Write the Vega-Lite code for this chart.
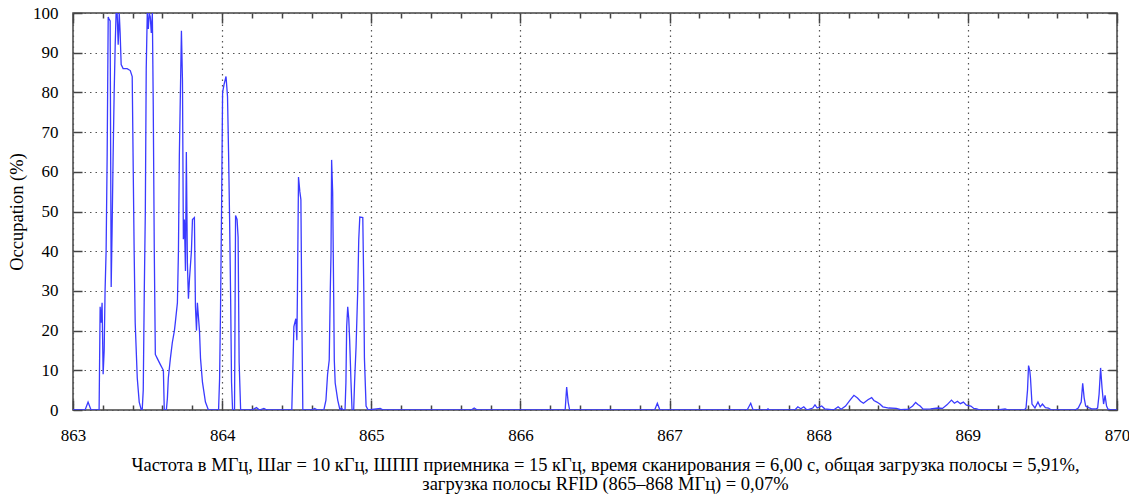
{
  "$schema": "https://vega.github.io/schema/vega-lite/v6.json",
  "autosize": {"type": "none"},
  "padding": {"left": 73, "top": 13, "right": 12, "bottom": 90},
  "width": 1044,
  "height": 397,
  "background": "white",
  "config": {
    "view": {"stroke": "#444", "strokeWidth": 1.5},
    "font": "Liberation Serif",
    "axis": {"domain": false, "labelFont": "Liberation Serif", "titleFont": "Liberation Serif", "labelColor": "#000", "titleColor": "#000", "tickColor": "#444", "tickWidth": 1.5}
  },
  "data": {"values": [
    {"f":863.000,"o":0},{"f":863.081,"o":0},{"f":863.101,"o":2},{"f":863.121,"o":0},{"f":863.175,"o":0},{"f":863.182,"o":26},{"f":863.188,"o":22},{"f":863.195,"o":27},{"f":863.202,"o":9},{"f":863.209,"o":15},{"f":863.215,"o":30},{"f":863.222,"o":40},{"f":863.229,"o":64},{"f":863.236,"o":99},{"f":863.242,"o":98.5},{"f":863.249,"o":98},{"f":863.256,"o":31},{"f":863.262,"o":45},{"f":863.269,"o":64},{"f":863.276,"o":80},{"f":863.283,"o":92},{"f":863.289,"o":100},{"f":863.296,"o":100},{"f":863.303,"o":92},{"f":863.310,"o":100},{"f":863.316,"o":95},{"f":863.323,"o":87},{"f":863.336,"o":86},{"f":863.363,"o":86},{"f":863.384,"o":85.5},{"f":863.397,"o":84},{"f":863.404,"o":60},{"f":863.410,"o":40},{"f":863.417,"o":22},{"f":863.431,"o":8},{"f":863.444,"o":2},{"f":863.458,"o":0},{"f":863.464,"o":0},{"f":863.471,"o":5},{"f":863.478,"o":30},{"f":863.485,"o":50},{"f":863.491,"o":86},{"f":863.498,"o":100},{"f":863.505,"o":96},{"f":863.511,"o":100},{"f":863.518,"o":99},{"f":863.525,"o":95},{"f":863.532,"o":100},{"f":863.538,"o":77},{"f":863.545,"o":40},{"f":863.552,"o":14},{"f":863.565,"o":13},{"f":863.585,"o":11.5},{"f":863.606,"o":10},{"f":863.612,"o":0},{"f":863.626,"o":0},{"f":863.633,"o":3},{"f":863.639,"o":8},{"f":863.653,"o":13},{"f":863.666,"o":17},{"f":863.680,"o":20},{"f":863.686,"o":22},{"f":863.700,"o":27},{"f":863.707,"o":40},{"f":863.713,"o":64},{"f":863.727,"o":95.5},{"f":863.734,"o":83},{"f":863.740,"o":43},{"f":863.747,"o":48},{"f":863.754,"o":35},{"f":863.760,"o":65},{"f":863.767,"o":37},{"f":863.774,"o":28},{"f":863.781,"o":33},{"f":863.794,"o":40},{"f":863.801,"o":48},{"f":863.814,"o":48.5},{"f":863.821,"o":26},{"f":863.828,"o":20},{"f":863.834,"o":27},{"f":863.848,"o":20},{"f":863.855,"o":13},{"f":863.868,"o":7},{"f":863.888,"o":2},{"f":863.908,"o":0},
    {"f":863.956,"o":0},{"f":863.976,"o":0},{"f":863.983,"o":8},{"f":863.989,"o":25},{"f":863.996,"o":50},{"f":864.003,"o":80},{"f":864.013,"o":82},{"f":864.026,"o":84},{"f":864.036,"o":79},{"f":864.043,"o":65},{"f":864.050,"o":48},{"f":864.057,"o":28},{"f":864.063,"o":7},{"f":864.070,"o":0},{"f":864.083,"o":0},{"f":864.090,"o":49},{"f":864.100,"o":48},{"f":864.107,"o":43.6},{"f":864.114,"o":12},{"f":864.124,"o":0},
    {"f":864.20,"o":0},{"f":864.23,"o":0.6},{"f":864.25,"o":0},{"f":864.28,"o":0.4},{"f":864.30,"o":0},{"f":864.467,"o":0},
    {"f":864.474,"o":10},{"f":864.481,"o":21},{"f":864.494,"o":23},{"f":864.501,"o":17.6},{"f":864.505,"o":30},{"f":864.512,"o":58.7},{"f":864.521,"o":55},{"f":864.528,"o":53},{"f":864.534,"o":25},{"f":864.541,"o":0},{"f":864.60,"o":0},{"f":864.62,"o":0.4},{"f":864.64,"o":0},{"f":864.682,"o":0},{"f":864.696,"o":2.5},{"f":864.707,"o":9},{"f":864.718,"o":12.6},{"f":864.725,"o":30},{"f":864.730,"o":39.5},{"f":864.734,"o":63},{"f":864.741,"o":55},{"f":864.745,"o":39.5},{"f":864.752,"o":12.6},{"f":864.758,"o":6.8},{"f":864.775,"o":2.5},{"f":864.790,"o":0},{"f":864.80,"o":0.5},{"f":864.81,"o":0},{"f":864.824,"o":0},{"f":864.830,"o":7},{"f":864.835,"o":21},{"f":864.842,"o":26},{"f":864.849,"o":23},{"f":864.855,"o":17.6},{"f":864.864,"o":7},{"f":864.871,"o":0},{"f":864.882,"o":0},{"f":864.888,"o":7},{"f":864.898,"o":16},{"f":864.909,"o":30},{"f":864.916,"o":43},{"f":864.923,"o":48.6},{"f":864.943,"o":48.5},{"f":864.950,"o":30},{"f":864.954,"o":13},{"f":864.965,"o":1},{"f":864.979,"o":0},
    {"f":865.06,"o":0.4},{"f":865.08,"o":0},{"f":865.67,"o":0},{"f":865.69,"o":0.5},{"f":865.71,"o":0},
    {"f":866.30,"o":0},{"f":866.31,"o":5.8},{"f":866.32,"o":2},{"f":866.33,"o":0},
    {"f":866.90,"o":0},{"f":866.918,"o":1.7},{"f":866.935,"o":0},
    {"f":867.52,"o":0},{"f":867.544,"o":1.7},{"f":867.56,"o":0},{"f":867.65,"o":0},{"f":867.66,"o":0.3},{"f":867.67,"o":0},
    {"f":867.84,"o":0},{"f":867.86,"o":0.8},{"f":867.88,"o":0.3},{"f":867.90,"o":0.8},{"f":867.92,"o":0},{"f":867.96,"o":0.5},{"f":867.975,"o":1.3},{"f":867.99,"o":0.5},{"f":868.02,"o":1},{"f":868.04,"o":0.3},{"f":868.10,"o":0},{"f":868.13,"o":0.8},{"f":868.15,"o":0.2},{"f":868.18,"o":1},{"f":868.21,"o":2.5},{"f":868.236,"o":3.7},{"f":868.26,"o":3},{"f":868.28,"o":2.2},{"f":868.30,"o":1.7},{"f":868.33,"o":2.6},{"f":868.355,"o":3.1},{"f":868.37,"o":2.4},{"f":868.39,"o":2},{"f":868.41,"o":1.5},{"f":868.43,"o":0.8},{"f":868.47,"o":0.5},{"f":868.52,"o":0.4},{"f":868.55,"o":0.1},{"f":868.60,"o":0.2},{"f":868.63,"o":1},{"f":868.65,"o":1.9},{"f":868.665,"o":1.4},{"f":868.68,"o":1},{"f":868.70,"o":0.2},{"f":868.75,"o":0.3},{"f":868.80,"o":0.5},{"f":868.83,"o":0.4},{"f":868.86,"o":1.3},{"f":868.89,"o":2.5},{"f":868.91,"o":1.7},{"f":868.93,"o":2.2},{"f":868.95,"o":1.6},{"f":868.97,"o":2},{"f":868.99,"o":1.2},{"f":869.02,"o":1},{"f":869.04,"o":0.4},{"f":869.06,"o":0.3},{"f":869.08,"o":0},
    {"f":869.20,"o":0},{"f":869.25,"o":0.3},{"f":869.27,"o":0},{"f":869.38,"o":0},{"f":869.39,"o":0.5},{"f":869.40,"o":5},{"f":869.407,"o":11.2},{"f":869.415,"o":10},{"f":869.42,"o":8},{"f":869.43,"o":1.5},{"f":869.45,"o":0.5},{"f":869.47,"o":2},{"f":869.485,"o":0.8},{"f":869.50,"o":1.5},{"f":869.52,"o":0.6},{"f":869.54,"o":0.5},{"f":869.56,"o":0},
    {"f":869.72,"o":0},{"f":869.74,"o":0.5},{"f":869.76,"o":2},{"f":869.77,"o":6.7},{"f":869.78,"o":3},{"f":869.79,"o":1},{"f":869.81,"o":0.6},{"f":869.83,"o":0.3},{"f":869.86,"o":0.3},{"f":869.87,"o":0.5},{"f":869.88,"o":4},{"f":869.89,"o":10.6},{"f":869.90,"o":5.4},{"f":869.91,"o":1.5},{"f":869.92,"o":3.7},{"f":869.93,"o":1},{"f":869.94,"o":0.2},{"f":869.96,"o":0},{"f":870.00,"o":0}
  ]},
  "resolve": {"axis": {"x": "independent", "y": "independent"}},
  "layer": [
    {
      "mark": {"type": "line", "opacity": 0},
      "encoding": {
        "x": {"field": "f", "type": "quantitative", "scale": {"domain": [863, 870], "nice": false, "zero": false},
          "axis": {"orient": "top", "values": [863,863.2,863.4,863.6,863.8,864,864.2,864.4,864.6,864.8,865,865.2,865.4,865.6,865.8,866,866.2,866.4,866.6,866.8,867,867.2,867.4,867.6,867.8,868,868.2,868.4,868.6,868.8,869,869.2,869.4,869.6,869.8,870],
            "labels": false, "grid": false, "title": null,
            "tickSize": {"condition": {"test": "datum.value % 1 === 0", "value": -10}, "value": -5}}},
        "y": {"field": "o", "type": "quantitative", "scale": {"domain": [0, 100], "nice": false},
          "axis": {"orient": "right", "values": [0,10,20,30,40,50,60,70,80,90,100], "labels": false, "grid": false, "title": null, "tickSize": -9}}
      }
    },
    {
      "mark": {"type": "line", "color": "#3a3aff", "strokeWidth": 1.3, "clip": true},
      "encoding": {
        "x": {"field": "f", "type": "quantitative", "scale": {"domain": [863, 870], "nice": false, "zero": false},
          "axis": {"orient": "bottom", "values": [863,863.2,863.4,863.6,863.8,864,864.2,864.4,864.6,864.8,865,865.2,865.4,865.6,865.8,866,866.2,866.4,866.6,866.8,867,867.2,867.4,867.6,867.8,868,868.2,868.4,868.6,868.8,869,869.2,869.4,869.6,869.8,870],
            "labelExpr": "datum.value % 1 === 0 ? format(datum.value, 'd') : ''",
            "labelFontSize": 17, "labelPadding": 27, "labelFlush": false, "labelOverlap": false,
            "tickSize": {"condition": {"test": "datum.value % 1 === 0", "value": -10}, "value": -5},
            "grid": true, "gridColor": "#555", "gridDash": [1.5, 4], "gridWidth": 1.2,
            "gridOpacity": {"condition": {"test": "datum.value % 1 === 0", "value": 1}, "value": 0},
            "title": ["Частота в МГц, Шаг = 10 кГц, ШПП приемника = 15 кГц, время сканирования = 6,00 с, общая загрузка полосы = 5,91%,", "загрузка полосы RFID (865–868 МГц) = 0,07%"],
            "titleFontSize": 18.5, "titleFontWeight": "normal", "titleLineHeight": 19, "titlePadding": 7, "titleX": 532}},
        "y": {"field": "o", "type": "quantitative", "scale": {"domain": [0, 100], "nice": false},
          "axis": {"orient": "left", "values": [0,10,20,30,40,50,60,70,80,90,100], "labelFontSize": 17, "labelPadding": 24, "labelFlush": false, "labelOverlap": false,
            "tickSize": -9, "grid": true, "gridColor": "#555", "gridDash": [1.5, 4], "gridWidth": 1.2,
            "title": "Occupation (%)", "titleFontSize": 18.5, "titleFontWeight": "normal", "titlePadding": 6}}
      }
    }
  ]
}
